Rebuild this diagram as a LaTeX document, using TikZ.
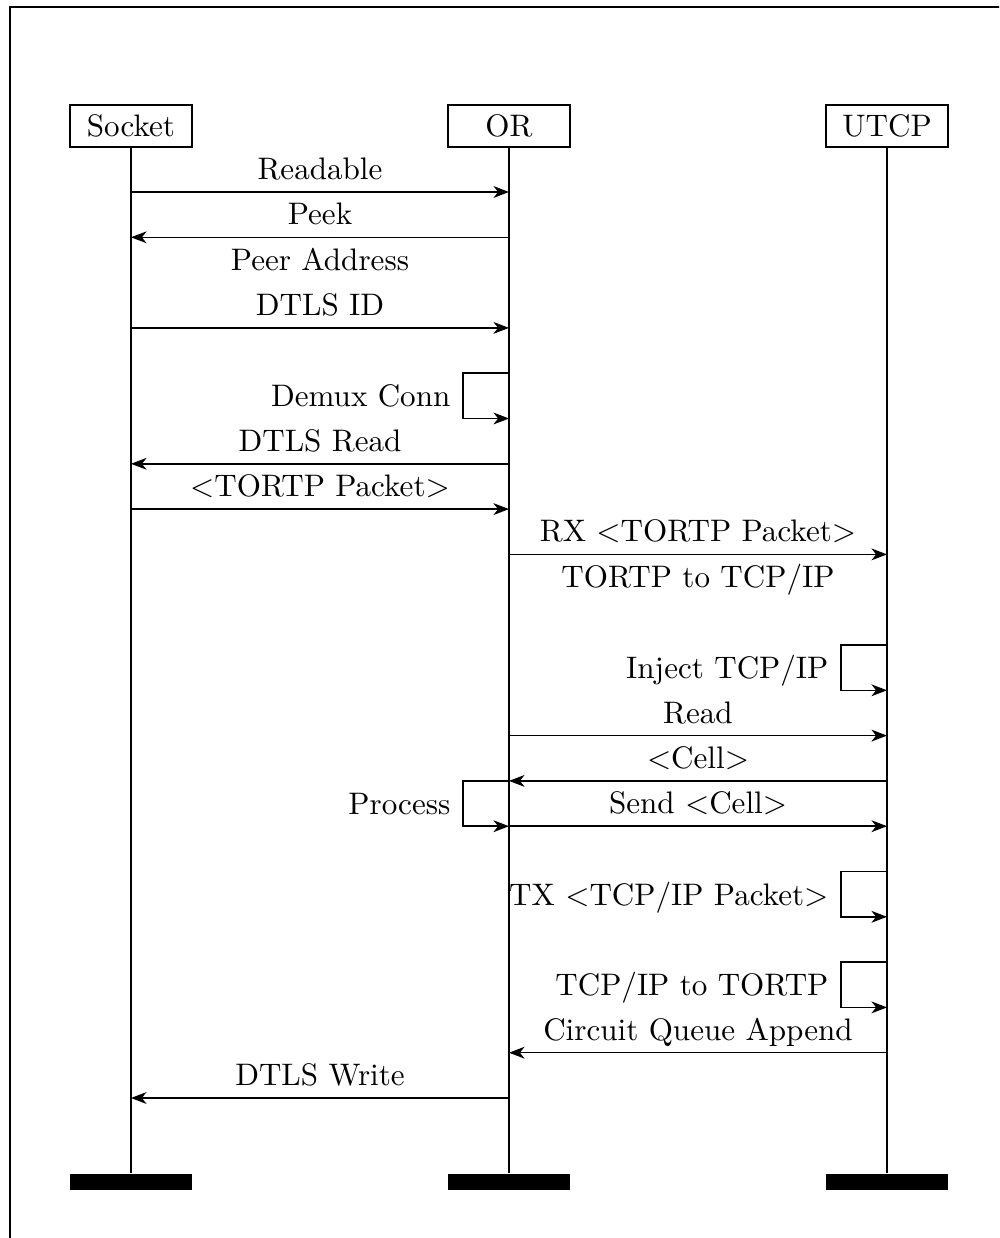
\documentclass[tikz,border=0pt]{standalone}
\usetikzlibrary{arrows.meta,calc}
\tikzset{
  inst/.style={draw, line width=0.45pt, minimum width=39.2pt, minimum height=13.5pt, inner sep=0pt},
  foot/.style={fill=black, draw=none, minimum width=39.2pt, minimum height=5.1pt, inner sep=0pt},
  life/.style={line width=0.5pt},
  msg/.style={line width=0.5pt, -{Stealth[length=5pt,width=3.8pt,inset=1.5pt]}},
  lbl/.style={anchor=base, yshift=4pt, inner sep=0pt},
  slbl/.style={anchor=base east, inner sep=0pt}
}
\begin{document}
\begin{tikzpicture}[x=0.3215pt,y=-0.3215pt]
\useasboundingbox (0,0) rectangle (999,1238);
\clip (0,0) rectangle (999,1238);
\draw[line width=0.6pt] (10,7) rectangle (1060,1300);
% instances
\node[inst] (sock) at (131,126) {Socket};
\node[inst] (or) at (509,126) {OR};
\node[inst] (utcp) at (887,126) {UTCP};
\node[foot] (sockf) at (131,1182) {};
\node[foot] (orf) at (509,1182) {};
\node[foot] (utcpf) at (887,1182) {};
\draw[life] (sock.south) -- (sockf.north);
\draw[life] (or.south) -- (orf.north);
\draw[life] (utcp.south) -- (utcpf.north);
% levels
\foreach \k in {0,...,21} {
  \coordinate (s\k) at (131,{192+45.3*\k});
  \coordinate (o\k) at (509,{192+45.3*\k});
  \coordinate (u\k) at (887,{192+45.3*\k});
}
% messages
\draw[msg] (s0) -- (o0) node[midway,lbl] (m0) {Readable};
\draw[msg] (o1) -- (s1) node[midway,lbl] (m1) {Peek};
\node[lbl] (m2) at ($(s2)!0.5!(o2)$) {Peer Address};
\draw[msg] (s3) -- (o3) node[midway,lbl] (m3) {DTLS ID};
\draw[msg] (o4) -- ++(-46,0) coordinate (c4) |- (o5);
\node[slbl] (m4) at ($(c4)!0.5!(c4 |- o5)+(-12,11)$) {Demux Conn};
\draw[msg] (o6) -- (s6) node[midway,lbl] (m6) {DTLS Read};
\draw[msg] (s7) -- (o7) node[midway,lbl] (m7) {<TORTP Packet>};
\draw[msg] (o8) -- (u8) node[midway,lbl] (m8) {RX <TORTP Packet>};
\node[lbl] (m9) at ($(o9)!0.5!(u9)$) {TORTP to TCP/IP};
\draw[msg] (u10) -- ++(-46,0) coordinate (c10) |- (u11);
\node[slbl] (m10) at ($(c10)!0.5!(c10 |- u11)+(-12,11)$) {Inject TCP/IP};
\draw[msg] (o12) -- (u12) node[midway,lbl] (m12) {Read};
\draw[msg] (u13) -- (o13) node[midway,lbl] (m13) {<Cell>};
\draw[msg] (o13) -- ++(-46,0) coordinate (c13) |- (o14);
\node[slbl] (m13b) at ($(c13)!0.5!(c13 |- o14)+(-12,11)$) {Process};
\draw[msg] (o14) -- (u14) node[midway,lbl] (m14) {Send <Cell>};
\draw[msg] (u15) -- ++(-46,0) coordinate (c15) |- (u16);
\node[slbl] (m15) at ($(c15)!0.5!(c15 |- u16)+(-12,11)$) {TX <TCP/IP Packet>};
\draw[msg] (u17) -- ++(-46,0) coordinate (c17) |- (u18);
\node[slbl] (m17) at ($(c17)!0.5!(c17 |- u18)+(-12,11)$) {TCP/IP to TORTP};
\draw[msg] (u19) -- (o19) node[midway,lbl] (m19) {Circuit Queue Append};
\draw[msg] (o20) -- (s20) node[midway,lbl] (m20) {DTLS Write};
\end{tikzpicture}
\end{document}
